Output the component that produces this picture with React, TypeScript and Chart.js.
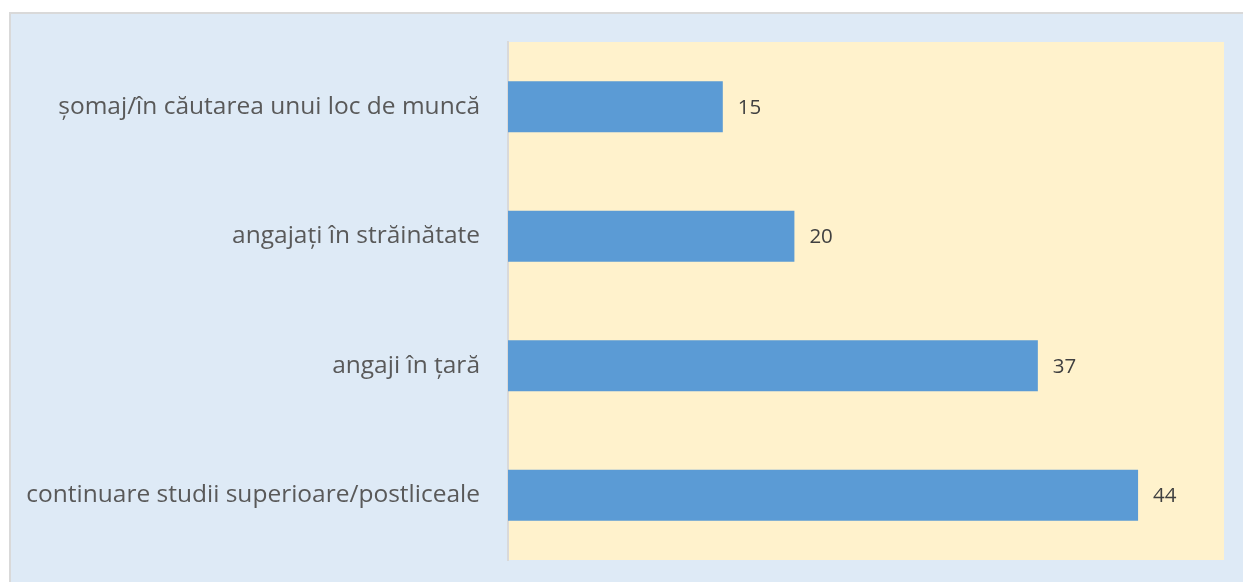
import React, { useEffect, useRef } from "react";
import { Chart, registerables } from "chart.js";

Chart.register(...registerables);

const categories = [
  "șomaj/în căutarea unui loc de muncă",
  "angajați în străinătate",
  "angaji în țară",
  "continuare studii superioare/postliceale",
];
const values = [15, 20, 37, 44];
const axisMax = 50;

const FONT = "'Open Sans', 'Noto Sans', sans-serif";

const bgPlugin = {
  id: "bgPlugin",
  beforeDraw(chart: any) {
    const { ctx, chartArea, width, height } = chart;
    ctx.save();
    ctx.fillStyle = "#ffffff";
    ctx.fillRect(0, 0, width, height);
    ctx.fillStyle = "#DEEAF6";
    ctx.fillRect(9, 12, width - 9, height - 12);
    ctx.fillStyle = "#D9D9D9";
    ctx.fillRect(9, 12, width - 9, 2);
    ctx.fillRect(9, 12, 2, height - 12);
    ctx.fillStyle = "#FFF2CC";
    ctx.fillRect(chartArea.left, chartArea.top, chartArea.right - chartArea.left, chartArea.bottom - chartArea.top);
    ctx.restore();
  },
};

const labelPlugin = {
  id: "labelPlugin",
  afterDatasetsDraw(chart: any) {
    const { ctx } = chart;
    const meta = chart.getDatasetMeta(0);
    ctx.save();
    ctx.font = `20.5px ${FONT}`;
    ctx.fillStyle = "#404040";
    ctx.textAlign = "left";
    ctx.textBaseline = "middle";
    meta.data.forEach((bar: any, i: number) => {
      ctx.fillText(String(values[i]), bar.x + 15, bar.y + 1);
    });
    ctx.restore();
  },
};

export default function App() {
  const ref = useRef<HTMLCanvasElement | null>(null);
  useEffect(() => {
    document.body.style.margin = "0";
    const chart = new Chart(ref.current!, {
      type: "bar",
      data: {
        labels: categories,
        datasets: [
          {
            data: values,
            backgroundColor: "#5B9BD5",
            borderWidth: 0,
            barPercentage: 0.79,
            categoryPercentage: 0.5,
          },
        ],
      },
      options: {
        indexAxis: "y",
        animation: false,
        responsive: false,
        maintainAspectRatio: false,
        layout: { padding: { left: 0, top: 42, right: 19, bottom: 22 } },
        plugins: { legend: { display: false }, tooltip: { enabled: false } },
        scales: {
          x: { display: false, min: 0, max: axisMax },
          y: {
            afterFit(scale: any) {
              scale.width = 508;
              scale.paddingTop = 0;
              scale.paddingBottom = 0;
            },
            grid: { display: false, drawTicks: false },
            border: { display: true, color: "#D9D9D9", width: 2 },
            ticks: {
              padding: 28,
              color: "#595959",
              font: { family: FONT, size: 24.5 },
            },
          },
        },
      },
      plugins: [bgPlugin, labelPlugin],
    });
    return () => chart.destroy();
  }, []);
  return (
    <div style={{ position: "fixed", left: 0, top: 0, width: 1243, height: 582 }}>
      <canvas ref={ref} width={1243} height={582} style={{ width: 1243, height: 582 }} />
    </div>
  );
}
